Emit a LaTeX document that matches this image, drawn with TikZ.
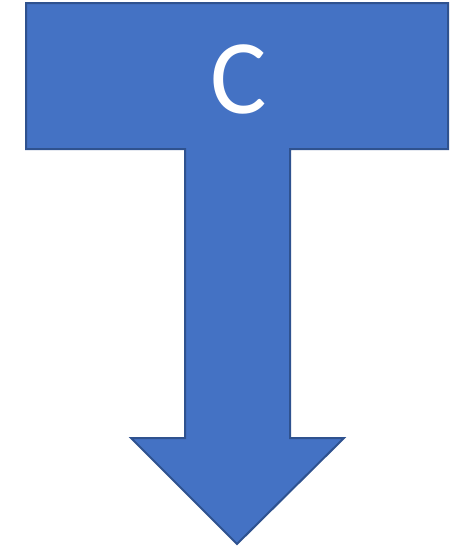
\documentclass[tikz,border=0pt]{standalone}
\usepackage{fontspec}
\setmainfont{Carlito}
\definecolor{tbody}{HTML}{4472C4}
\definecolor{tedge}{HTML}{2F528F}
\begin{document}
\begin{tikzpicture}[x=1pt,y=-1pt]
    \useasboundingbox (0,0) rectangle (451,547);
    \draw[fill=tbody,draw=tedge,line width=2pt,line join=miter]
      (26,3) -- (448,3) -- (448,149) -- (290,149) -- (290,438)
      -- (344,438) -- (237,544) -- (131,438) -- (185,438)
      -- (185,149) -- (26,149) -- cycle;
    \node[text=white,font=\fontsize{106}{106}\selectfont,inner sep=0pt] (letter) at (239,79) {C};
  \end{tikzpicture}
\end{document}
